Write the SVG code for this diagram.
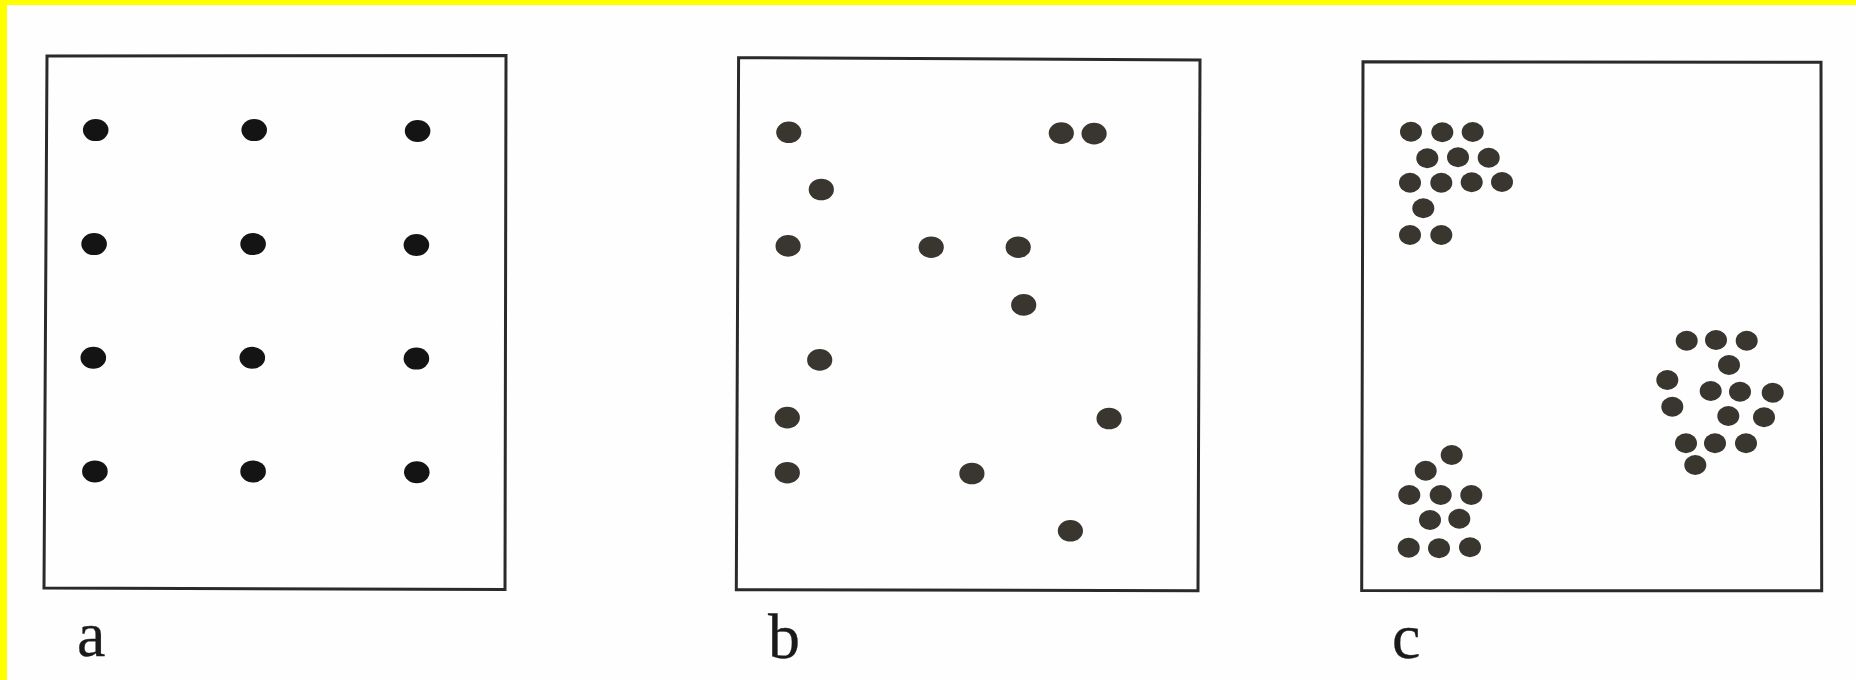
<svg xmlns="http://www.w3.org/2000/svg" width="1856" height="680" viewBox="0 0 1856 680">
<style>
.frame{fill:none;stroke:#2a2a2a;stroke-width:3;stroke-linejoin:miter}
.da{fill:#141414}
.db{fill:#38362e}
.lbl{font-family:"Liberation Serif","Times New Roman",serif;font-size:64px;fill:#1a1a1a;stroke:#1a1a1a;stroke-width:0.3}
</style>
<rect x="0" y="0" width="1856" height="680" fill="#fefefe"/>
<rect x="0" y="0" width="1856" height="5" fill="#ffff00"/>
<rect x="0" y="0" width="7" height="680" fill="#ffff00"/>
<g id="panel-a">
<polygon class="frame" points="47,56 506,55.5 505,589.5 44,588"/>
<g class="da">
<ellipse cx="95.7" cy="130.1" rx="12.8" ry="11"/>
<ellipse cx="254.2" cy="130.1" rx="12.8" ry="11"/>
<ellipse cx="417.6" cy="131" rx="12.8" ry="11"/>
<ellipse cx="94.1" cy="244.1" rx="12.8" ry="11"/>
<ellipse cx="253.1" cy="244.1" rx="12.8" ry="11"/>
<ellipse cx="416.4" cy="245" rx="12.8" ry="11"/>
<ellipse cx="93.3" cy="357.8" rx="12.8" ry="11"/>
<ellipse cx="252.3" cy="357.8" rx="12.8" ry="11"/>
<ellipse cx="416.4" cy="358.6" rx="12.8" ry="11"/>
<ellipse cx="94.9" cy="471.4" rx="12.8" ry="11"/>
<ellipse cx="253.1" cy="471.4" rx="12.8" ry="11"/>
<ellipse cx="416.8" cy="472.2" rx="12.8" ry="11"/>
</g>
<text class="lbl" x="77" y="656">a</text>
</g>
<g id="panel-b">
<polygon class="frame" points="738.6,57.7 1200,60 1198,590.7 736.3,589.8"/>
<g class="db">
<ellipse cx="788.8" cy="132.3" rx="12.6" ry="10.8"/>
<ellipse cx="1061.3" cy="133.1" rx="12.6" ry="10.8"/>
<ellipse cx="1094.1" cy="133.6" rx="12.6" ry="10.8"/>
<ellipse cx="821.3" cy="189.5" rx="12.6" ry="10.8"/>
<ellipse cx="788.1" cy="245.9" rx="12.6" ry="10.8"/>
<ellipse cx="931.2" cy="247.2" rx="12.6" ry="10.8"/>
<ellipse cx="1018.2" cy="247.2" rx="12.6" ry="10.8"/>
<ellipse cx="1023.7" cy="304.9" rx="12.6" ry="10.8"/>
<ellipse cx="819.7" cy="359.9" rx="12.6" ry="10.8"/>
<ellipse cx="787.3" cy="417.6" rx="12.6" ry="10.8"/>
<ellipse cx="1109.1" cy="418.5" rx="12.6" ry="10.8"/>
<ellipse cx="787.3" cy="472.7" rx="12.6" ry="10.8"/>
<ellipse cx="971.9" cy="473.5" rx="12.6" ry="10.8"/>
<ellipse cx="1070.4" cy="530.8" rx="12.6" ry="10.8"/>
</g>
<text class="lbl" x="768" y="658">b</text>
</g>
<g id="panel-c">
<polygon class="frame" points="1363,61.7 1821,62.3 1821.7,590.7 1361.7,590.6"/>
<g class="db">
<ellipse cx="1411" cy="131.7" rx="11" ry="10"/>
<ellipse cx="1442.3" cy="132.3" rx="11" ry="10"/>
<ellipse cx="1472.7" cy="132" rx="11" ry="10"/>
<ellipse cx="1427.3" cy="158.3" rx="11" ry="10"/>
<ellipse cx="1458" cy="157.3" rx="11" ry="10"/>
<ellipse cx="1488.7" cy="157.7" rx="11" ry="10"/>
<ellipse cx="1410" cy="182.7" rx="11" ry="10"/>
<ellipse cx="1441.3" cy="182.7" rx="11" ry="10"/>
<ellipse cx="1471.7" cy="182.3" rx="11" ry="10"/>
<ellipse cx="1502" cy="182" rx="11" ry="10"/>
<ellipse cx="1423.3" cy="208.3" rx="11" ry="10"/>
<ellipse cx="1410" cy="235" rx="11" ry="10"/>
<ellipse cx="1441.3" cy="235" rx="11" ry="10"/>

<ellipse cx="1451.7" cy="455" rx="11" ry="10"/>
<ellipse cx="1425.7" cy="470.7" rx="11" ry="10"/>
<ellipse cx="1409.3" cy="495" rx="11" ry="10"/>
<ellipse cx="1440.7" cy="495" rx="11" ry="10"/>
<ellipse cx="1471.3" cy="495" rx="11" ry="10"/>
<ellipse cx="1430" cy="520" rx="11" ry="10"/>
<ellipse cx="1459.3" cy="518.7" rx="11" ry="10"/>
<ellipse cx="1408.7" cy="547.7" rx="11" ry="10"/>
<ellipse cx="1439" cy="548.3" rx="11" ry="10"/>
<ellipse cx="1470" cy="547.3" rx="11" ry="10"/>

<ellipse cx="1686.7" cy="340.7" rx="11" ry="10"/>
<ellipse cx="1716" cy="340" rx="11" ry="10"/>
<ellipse cx="1746.7" cy="340.7" rx="11" ry="10"/>
<ellipse cx="1729" cy="365" rx="11" ry="10"/>
<ellipse cx="1667.3" cy="380" rx="11" ry="10"/>
<ellipse cx="1710.7" cy="391" rx="11" ry="10"/>
<ellipse cx="1740" cy="391.7" rx="11" ry="10"/>
<ellipse cx="1772.7" cy="392.7" rx="11" ry="10"/>
<ellipse cx="1672.3" cy="406.7" rx="11" ry="10"/>
<ellipse cx="1728.3" cy="416" rx="11" ry="10"/>
<ellipse cx="1764" cy="417.3" rx="11" ry="10"/>
<ellipse cx="1686" cy="443.3" rx="11" ry="10"/>
<ellipse cx="1715" cy="443.3" rx="11" ry="10"/>
<ellipse cx="1746" cy="443.3" rx="11" ry="10"/>
<ellipse cx="1695.3" cy="465" rx="11" ry="10"/>
</g>
<text class="lbl" x="1392" y="658">c</text>
</g>
</svg>
